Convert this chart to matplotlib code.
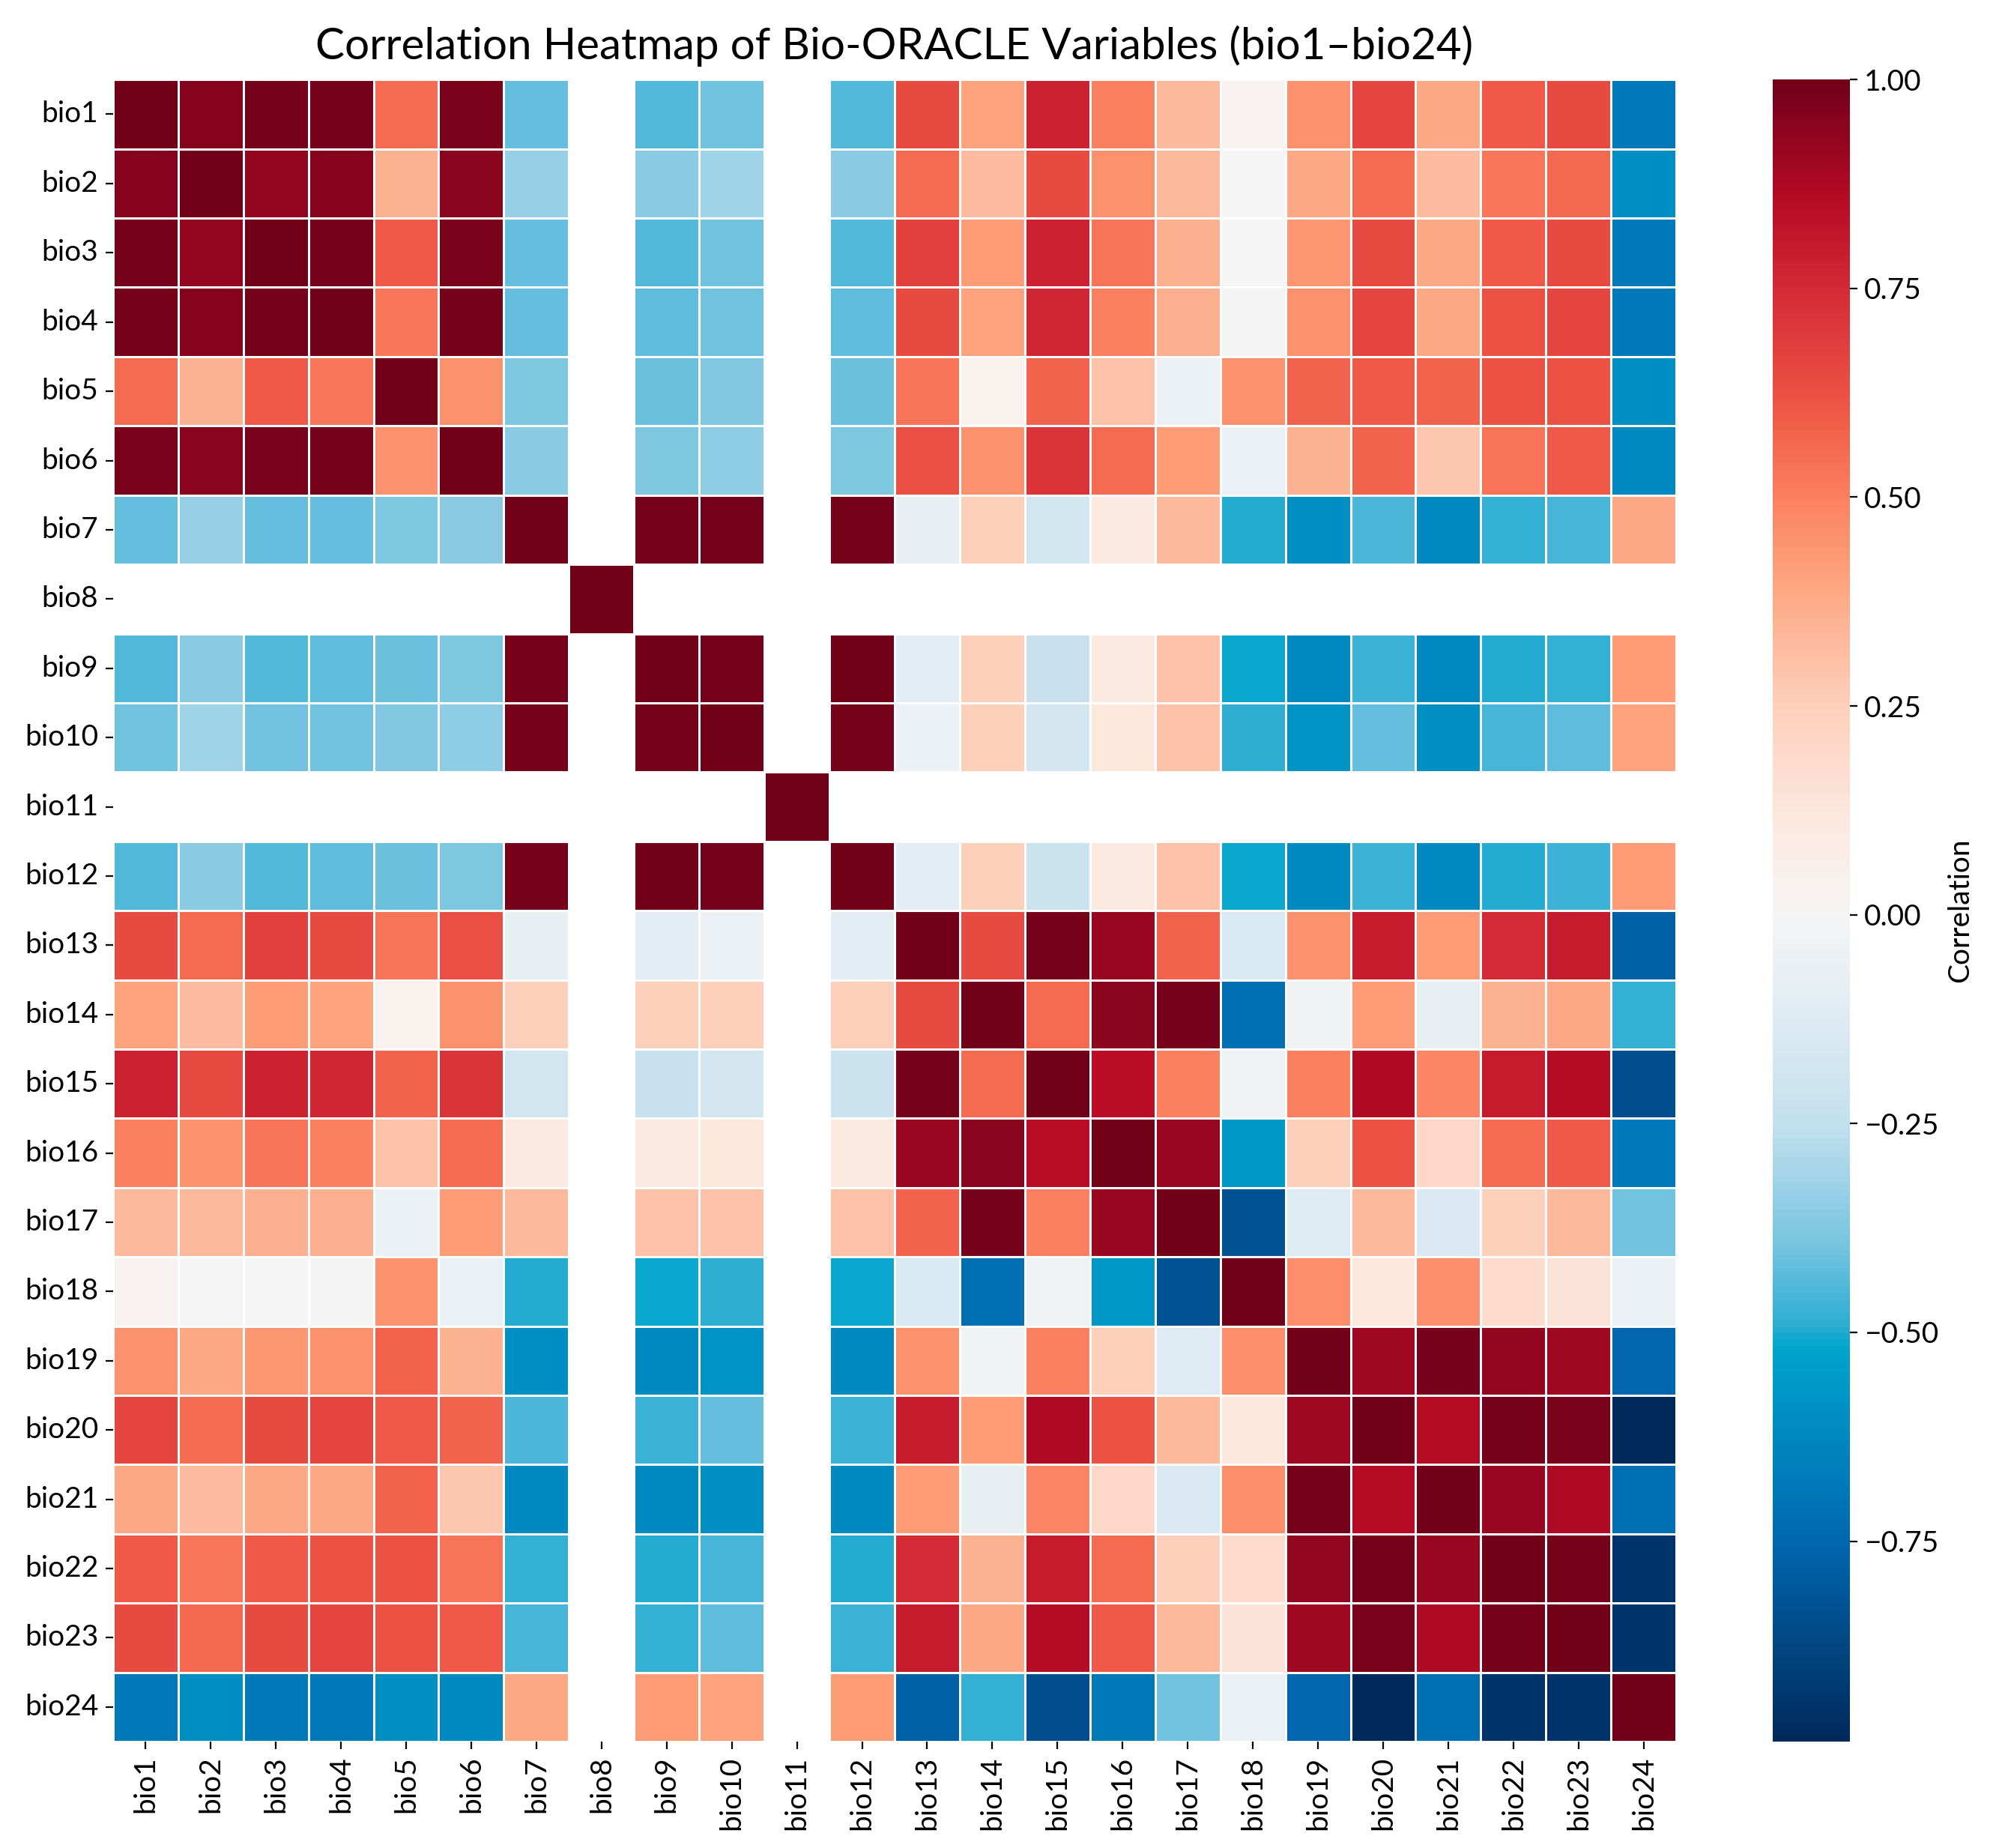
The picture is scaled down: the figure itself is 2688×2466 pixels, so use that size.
import numpy as np
import pandas as pd
import matplotlib
matplotlib.use("Agg")
import matplotlib.pyplot as plt
from matplotlib.colors import LinearSegmentedColormap
import seaborn as sns

nan = np.nan

variables = ["bio%d" % i for i in range(1, 25)]

# lower triangle of the correlation matrix, row by row (bio8 / bio11 constant -> NaN)
corr_lower = [
    [1.00],
    [0.96, 1.00],
    [0.99, 0.93, 1.00],
    [0.99, 0.96, 0.99, 1.00],
    [0.55, 0.35, 0.60, 0.52, 1.00],
    [0.98, 0.95, 0.98, 0.99, 0.45, 1.00],
    [-0.42, -0.33, -0.42, -0.42, -0.38, -0.36, 1.00],
    [nan, nan, nan, nan, nan, nan, nan, 1.00],
    [-0.44, -0.36, -0.44, -0.43, -0.41, -0.38, 0.99, nan, 1.00],
    [-0.40, -0.32, -0.40, -0.40, -0.37, -0.35, 0.99, nan, 0.99, 1.00],
    [nan, nan, nan, nan, nan, nan, nan, nan, nan, nan, 1.00],
    [-0.44, -0.36, -0.44, -0.43, -0.41, -0.38, 0.99, nan, 1.00, 0.99, nan, 1.00],
    [0.65, 0.55, 0.68, 0.65, 0.53, 0.63, -0.08, nan, -0.10, -0.05, nan, -0.10, 1.00],
    [0.40, 0.32, 0.42, 0.40, 0.04, 0.45, 0.25, nan, 0.25, 0.25, nan, 0.25, 0.65, 1.00],
    [0.78, 0.65, 0.78, 0.76, 0.58, 0.72, -0.18, nan, -0.23, -0.17, nan, -0.22, 0.99, 0.55, 1.00],
    [0.50, 0.45, 0.53, 0.50, 0.30, 0.55, 0.10, nan, 0.10, 0.12, nan, 0.10, 0.92, 0.95, 0.85, 1.00],
    [0.33, 0.33, 0.36, 0.36, -0.05, 0.42, 0.33, nan, 0.30, 0.30, nan, 0.30, 0.58, 0.99, 0.50, 0.92, 1.00],
    [0.03, 0.00, 0.00, -0.01, 0.45, -0.06, -0.50, nan, -0.51, -0.49, nan, -0.51, -0.15, -0.72, -0.04, -0.57, -0.83, 1.00],
    [0.45, 0.38, 0.44, 0.45, 0.58, 0.35, -0.60, nan, -0.62, -0.58, nan, -0.62, 0.45, -0.03, 0.50, 0.25, -0.12, 0.46, 1.00],
    [0.66, 0.55, 0.65, 0.66, 0.60, 0.58, -0.45, nan, -0.47, -0.42, nan, -0.47, 0.80, 0.42, 0.87, 0.62, 0.33, 0.12, 0.90, 1.00],
    [0.38, 0.32, 0.38, 0.38, 0.58, 0.28, -0.62, nan, -0.62, -0.60, nan, -0.62, 0.42, -0.08, 0.48, 0.20, -0.14, 0.46, 0.99, 0.86, 1.00],
    [0.60, 0.52, 0.60, 0.62, 0.62, 0.53, -0.48, nan, -0.50, -0.46, nan, -0.50, 0.75, 0.35, 0.80, 0.55, 0.25, 0.18, 0.93, 0.99, 0.92, 1.00],
    [0.65, 0.56, 0.65, 0.66, 0.62, 0.60, -0.46, nan, -0.48, -0.43, nan, -0.47, 0.80, 0.38, 0.86, 0.60, 0.33, 0.14, 0.90, 0.98, 0.87, 0.99, 1.00],
    [-0.68, -0.60, -0.68, -0.68, -0.60, -0.62, 0.38, nan, 0.42, 0.40, nan, 0.42, -0.78, -0.48, -0.85, -0.68, -0.40, -0.06, -0.75, -0.99, -0.72, -0.95, -0.95, 1.00],
]

n = len(variables)
mat = np.full((n, n), nan)
for i, row in enumerate(corr_lower):
    for j, v in enumerate(row):
        mat[i, j] = v
        mat[j, i] = v
corr = pd.DataFrame(mat, index=variables, columns=variables)

# colours picked off the reference colour bar
vmin, vmax = np.nanmin(mat), np.nanmax(mat)
anchors = [
    (-0.99, "#012a5c"), (-0.75, "#0068b0"), (-0.60, "#008fc3"),
    (-0.52, "#00a5cc"), (-0.49, "#30aed4"), (-0.40, "#74c3df"),
    (-0.25, "#c3e0ee"), (-0.10, "#e3edf3"), (0.00, "#f5f5f5"),
    (0.10, "#fceae2"), (0.25, "#fdd0bc"), (0.40, "#fda47e"),
    (0.50, "#fb8060"), (0.60, "#f05a47"), (0.75, "#d42a35"),
    (0.85, "#bb0c26"), (1.00, "#720019"),
]
cmap = LinearSegmentedColormap.from_list(
    "bio_rdbu", [((v - vmin) / (vmax - vmin), c) for v, c in anchors])
cmap.set_bad("white")

plt.rcParams["font.family"] = ["Lato", "DejaVu Sans"]

fig = plt.figure(figsize=(13.44, 12.33), dpi=200)
ax = fig.add_axes([0.0561, 0.0576, 0.7762, 0.8993])
cax = fig.add_axes([0.8801, 0.0576, 0.0383, 0.8993])

sns.heatmap(corr, cmap=cmap, vmin=vmin, vmax=vmax, linewidths=0.5, linecolor="white",
            ax=ax, cbar_ax=cax, cbar_kws={"label": "Correlation"})

ax.set_title("Correlation Heatmap of Bio-ORACLE Variables (bio1\u2013bio24)", fontsize=21, pad=10)
ax.tick_params(axis="both", labelsize=14)
ax.set_xticklabels(variables, rotation=90)
ax.set_yticklabels(variables, rotation=0)

cax.tick_params(labelsize=14)
cax.yaxis.label.set_size(14)

fig.savefig("out.png", dpi=200)
